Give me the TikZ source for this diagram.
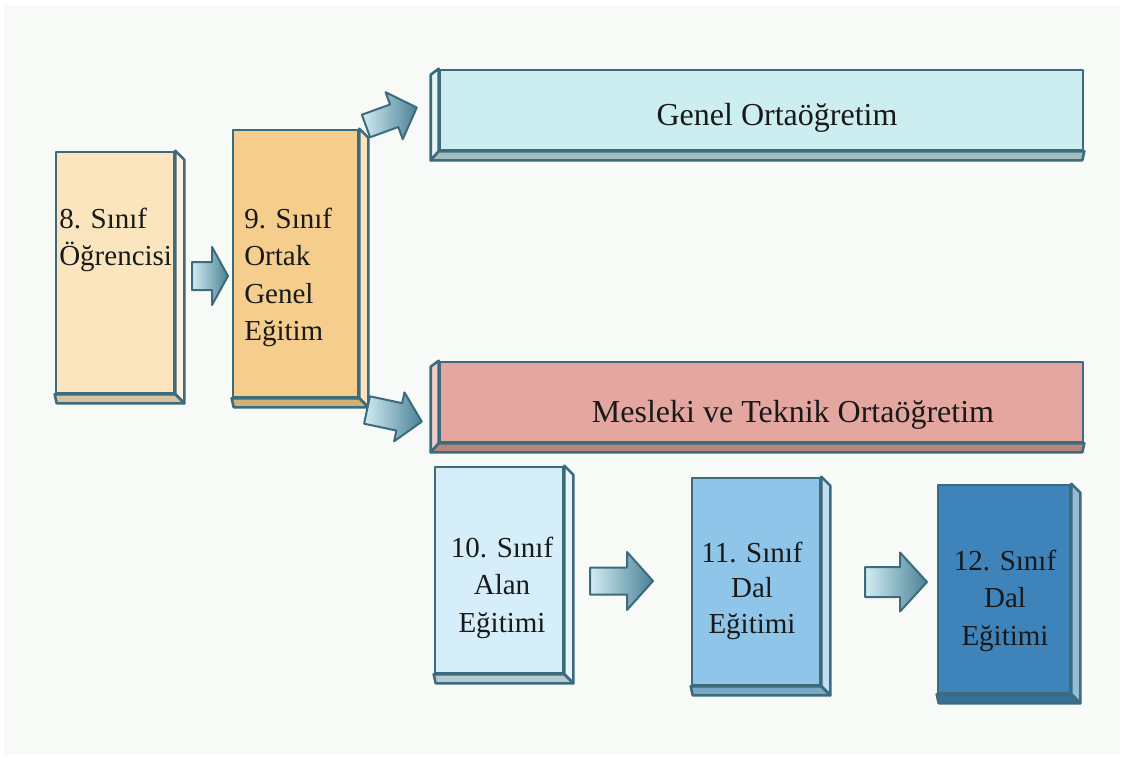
\documentclass[tikz,border=0pt]{standalone}
\usepackage{fontspec}
\setmainfont{Liberation Serif}
\usetikzlibrary{calc}
\usetikzlibrary{positioning}

\definecolor{edge}{HTML}{3B6B7D}
\definecolor{paper}{HTML}{F7FAF7}
\definecolor{peach}{HTML}{FBE5BF}
\definecolor{tan}{HTML}{F5CE8E}
\definecolor{genelc}{HTML}{CDEEF0}
\definecolor{meslekc}{HTML}{E3A79F}
\definecolor{sky}{HTML}{D6EEF9}
\definecolor{midblue}{HTML}{8EC5E8}
\definecolor{deepblue}{HTML}{3E83BA}
\definecolor{arrowlight}{HTML}{D2ECF4}
\definecolor{arrowdark}{HTML}{4A8194}

\begin{document}
\begin{tikzpicture}[x=1pt, y=-1pt, line width=2.6pt, line join=round, font=\fontsize{29}{37.5}\selectfont]
		\tikzstyle{box}=[draw=edge, rectangle, inner sep=0pt]
		\tikzstyle{face}=[draw=edge]
		\tikzstyle{txt}=[inner sep=0pt, text=black!90]
		\tikzstyle{bartxt}=[txt, font=\fontsize{32}{38}\selectfont, anchor=base]
		\tikzstyle{blockarrow}=[draw=edge, line width=2pt, left color=arrowlight, right color=arrowdark]
		
		\useasboundingbox (0,0) rectangle (1124,760);
		\fill[white] (0,0) rectangle (1124,760);
		\fill[paper] (4,5) rectangle (1120,755);
		
		% front faces
		\node[box, fill=peach, minimum width=118, minimum height=241] (b8) at (115,272.5) {};
		\node[box, fill=tan, minimum width=125, minimum height=267] (b9) at (295.5,263.5) {};
		\node[box, fill=genelc, minimum width=643, minimum height=80] (genel) at (761.5,110) {};
		\node[box, fill=meslekc, minimum width=643, minimum height=80] (meslek) at (761.5,402) {};
		\node[box, fill=sky, minimum width=128, minimum height=206] (b10) at (499,570) {};
		\node[box, fill=midblue, minimum width=128, minimum height=207] (b11) at (756,581.5) {};
		\node[box, fill=deepblue, minimum width=132, minimum height=208] (b12) at (1004,589) {};
		
		% depth of the tall boxes (right and bottom)
		\foreach \b/\c in {b8/peach, b9/tan, b10/sky, b11/midblue, b12/deepblue}
		{
			\filldraw[face, fill=\c!55!white] (\b.north east) -- ++(9,9) -- ($(\b.south east)+(9,9)$) -- (\b.south east) -- cycle;
			\filldraw[face, fill=\c!85!black] (\b.south west) -- (\b.south east) -- ++(9,9) -- ($(\b.south west)+(2,9)$) -- cycle;
		}
		
		% depth of the wide bars (left and bottom)
		\foreach \b/\c in {genel/genelc, meslek/meslekc}
		{
			\filldraw[face, fill=\c!55!white] (\b.north west) -- ++(-8,6) -- ($(\b.south west)+(-8,9)$) -- (\b.south west) -- cycle;
			\filldraw[face, fill=\c!80!black] (\b.south west) -- (\b.south east) -- ++(-2,9) -- ($(\b.south west)+(-8,9)$) -- cycle;
		}
		
		% texts (base = last line)
		\node[txt, anchor=base west, align=left] (t8) at (58,265.5) {8. Sınıf\\Öğrencisi};
		\node[txt, anchor=base west, align=left] (t9) at (243,340.5) {9. Sınıf\\Ortak\\Genel\\Eğitim};
		\node[txt, anchor=base, align=center] (t10) at (502,632) {10. Sınıf\\Alan\\Eğitimi};
		\node[txt, anchor=base, align=center, font=\fontsize{29}{35.5}\selectfont] (t11) at (752,633) {11. Sınıf\\Dal\\Eğitimi};
		\node[txt, anchor=base, align=center] (t12) at (1005,645) {12. Sınıf\\Dal\\Eğitimi};
		\node[bartxt] (tg) at (777,125) {Genel Ortaöğretim};
		\node[bartxt] (tm) at (793,422) {Mesleki ve Teknik Ortaöğretim};
		
		% block arrows: tail x/tail y/angle/length/head start/shaft half/head half
		\foreach \x/\y/\r/\l/\h/\s/\w in {192/276/0/36/20/14/29, 366/126/20/54/30/12/25, 367/410/-12/56/33/14/25, 590/581/0/63/37/13.5/29, 865/582/0/62/35/15/29.5}
		{
			\draw[blockarrow, shift={(\x,\y)}, rotate=\r] (0,-\s) -- (\h,-\s) -- (\h,-\w) -- (\l,0) -- (\h,\w) -- (\h,\s) -- (0,\s) -- cycle;
		}
	\end{tikzpicture}
\end{document}
